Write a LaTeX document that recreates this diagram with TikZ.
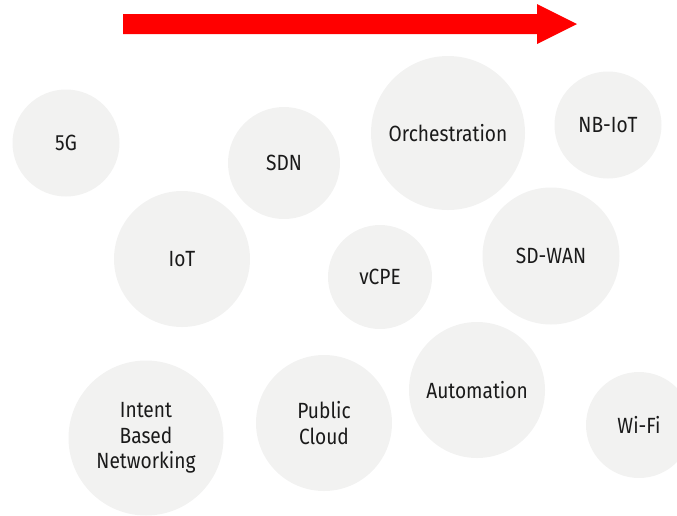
\documentclass[tikz,border=0pt]{standalone}
\usepackage{fontspec}
\setmainfont{Fira Sans}[FakeStretch=0.87]
\definecolor{bubblegray}{HTML}{F2F2F1}
\definecolor{inkblack}{HTML}{1A1A1A}
\definecolor{trendred}{HTML}{FF0000}
\tikzset{
  bubble/.style={circle, fill=bubblegray, inner sep=0pt, text=inkblack,
    font=\fontsize{22}{25.5}\selectfont, align=center},
}
\begin{document}
\begin{tikzpicture}[x=1pt,y=-1pt]
  \useasboundingbox (0,0) rectangle (677,515);
  \clip (0,0) rectangle (677,515);
  % trend arrow
  \fill[trendred] (123,14) -- (537,14) -- (537,4) -- (577,24) -- (537,44) -- (537,34) -- (123,34) -- cycle;
  % topic bubbles
  \node[bubble, minimum size=107pt] (fiveg) at (66,143) {5G};
  \node[bubble, minimum size=112pt] (sdn) at (284,163) {SDN};
  \node[bubble, minimum size=154pt] (orch) at (448,133) {Orchestration};
  \node[bubble, minimum size=107pt] (nbiot) at (608,125) {NB-IoT};
  \node[bubble, minimum size=136pt] (iot) at (182,259) {IoT};
  \node[bubble, minimum size=104pt] (vcpe) at (380,277) {vCPE};
  \node[bubble, minimum size=137pt] (sdwan) at (551,256) {SD-WAN};
  \node[bubble, minimum size=155pt] (ibn) at (146,438) {Intent\\Based\\Networking};
  \node[bubble, minimum size=136pt] (cloud) at (324,423) {Public\\Cloud};
  \node[bubble, minimum size=136pt] (auto) at (477,390) {Automation};
  \node[bubble, minimum size=106pt] (wifi) at (639,425) {Wi-Fi};
\end{tikzpicture}
\end{document}
